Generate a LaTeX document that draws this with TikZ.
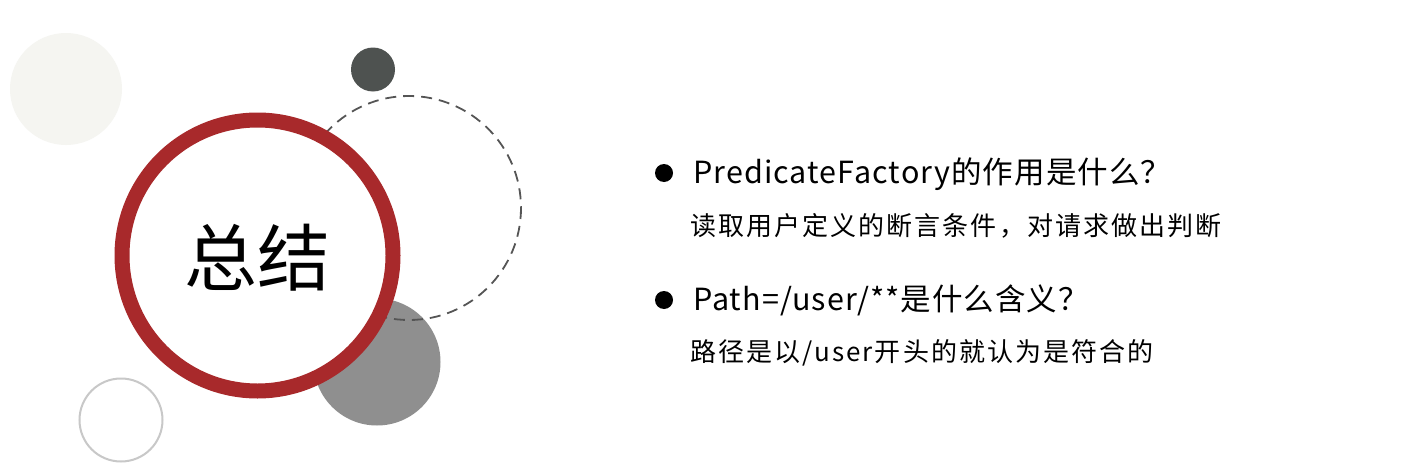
\documentclass[tikz,border=0pt]{standalone}
\usepackage{fontspec}
\setmainfont{Noto Sans CJK SC}
\newfontfamily\titlefont[LetterSpace=3.5]{Noto Sans CJK SC}
\newfontfamily\bodyfont[LetterSpace=8]{Noto Sans CJK SC}
\newfontfamily\bigfont{Noto Sans CJK SC}
\definecolor{ringred}{RGB}{168,41,43}
\definecolor{palegray}{RGB}{245,245,241}
\definecolor{darkgray}{RGB}{78,82,80}
\definecolor{midgray}{RGB}{143,143,143}
\definecolor{linegray}{RGB}{200,200,200}
\definecolor{dashgray}{RGB}{85,85,85}
\tikzset{
  titletext/.style={anchor=west, inner sep=0pt, font=\titlefont\fontsize{30.5}{33}\selectfont},
  bodytext/.style={anchor=west, inner sep=0pt, font=\bodyfont\fontsize{26}{30}\selectfont},
  bulletdot/.style={circle, fill=black, minimum size=18pt, inner sep=0pt}
}
\begin{document}
\begin{tikzpicture}[x=1pt,y=-1pt]
\useasboundingbox (0,0) rectangle (1417,471);
\fill[white] (0,0) rectangle (1417,471);
% decorative circles
\fill[palegray] (66,89) circle (56);
\fill[darkgray] (373,69.5) circle (22);
\fill[midgray] (377,362) circle (63.5);
\draw[dashgray, line width=1.8pt, dash pattern=on 11pt off 7pt] (409,208) circle (112);
\draw[linegray, line width=2pt] (121,420) circle (41.5);
% main ring
\fill[white] (257.5,255.5) circle (135);
\draw[ringred, line width=15pt] (257.5,255.5) circle (135.5);
\node[inner sep=0pt, font=\bigfont\fontsize{73}{76}\selectfont] (title) at (257.5,258) {总结};
% bullets
\node[bulletdot] (b1) at (664,173) {};
\node[bulletdot] (b2) at (664,300) {};
\node[titletext] (q1) at (693,174) {PredicateFactory的作用是什么？};
\node[bodytext] (a1) at (690,226) {读取用户定义的断言条件，对请求做出判断};
\node[titletext] (q2) at (693,300) {Path=/user/**是什么含义？};
\node[bodytext] (a2) at (690,353) {路径是以/user开头的就认为是符合的};
\end{tikzpicture}
\end{document}
